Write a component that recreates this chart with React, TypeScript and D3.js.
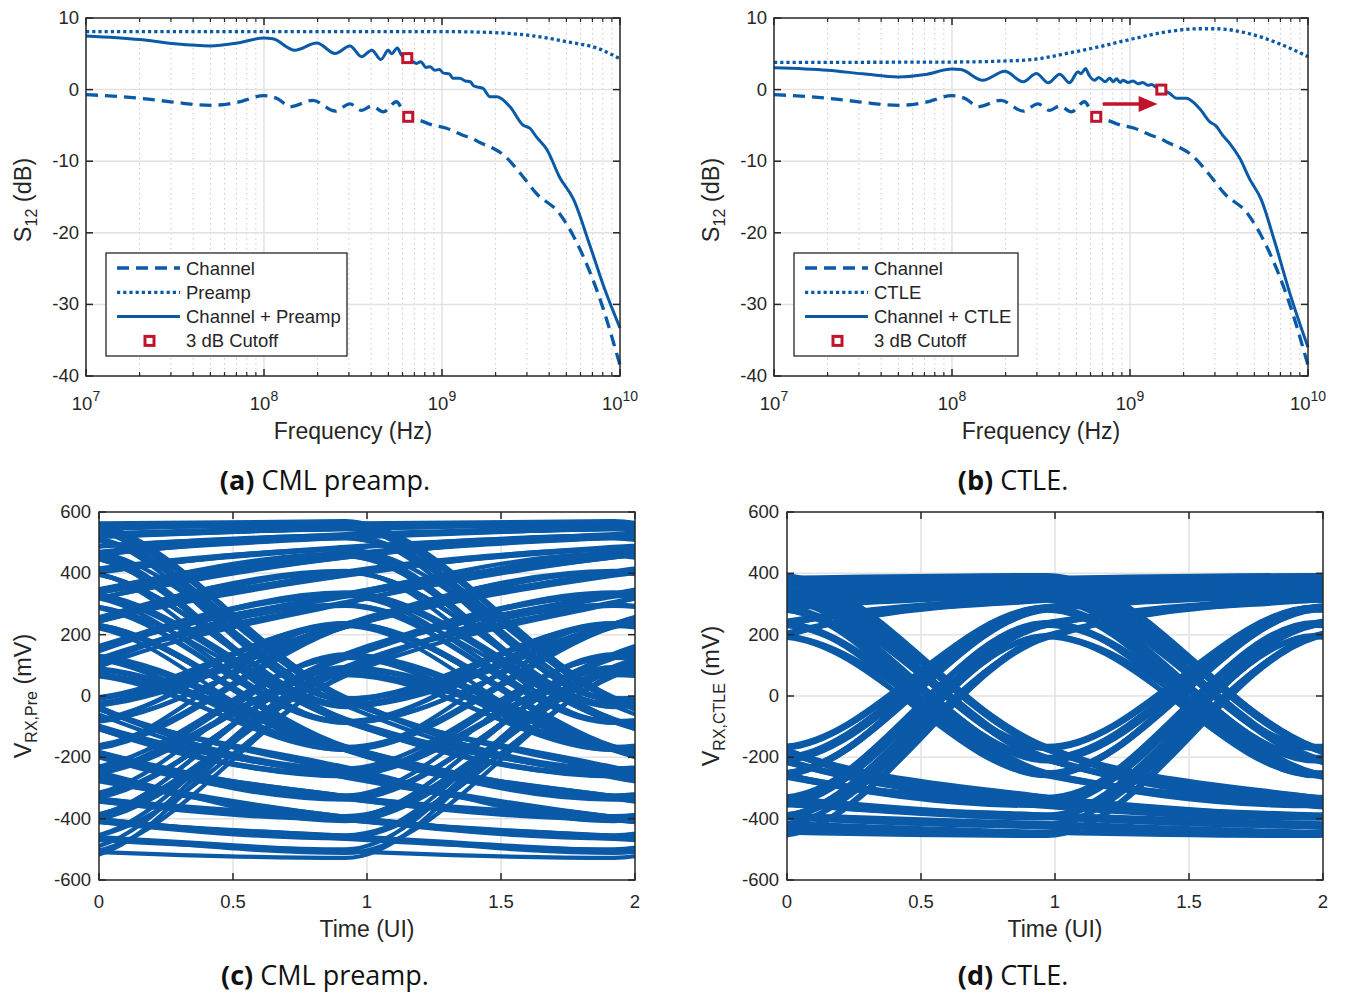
import React from 'react';
import * as d3 from 'd3';

const BLUE = '#0a5aa8';
const RED = '#c1132b';
const AXIS = '#262626';
const GRID = '#e2e2e2';
const MINOR = '#c8c8c8';
const FONT = '"Liberation Sans", Arial, Helvetica, sans-serif';
const CAPTION_FONT = '"Open Sans", sans-serif';

// ---- frequency responses (Hz, dB) ----
const channelFreq = [1e7, 2e7, 3e7, 5e7, 7e7, 1e8, 1.2e8, 1.4e8, 1.88e8, 2.51e8, 3.04e8, 3.54e8, 4.03e8, 4.68e8, 5.56e8, 5.93e8, 6.46e8, 7.52e8, 8.71e8, 1.06e9, 1.32e9, 1.5e9, 1.63e9, 1.94e9, 2.21e9, 2.51e9, 2.86e9, 3.39e9, 4.57e9, 5.96e9, 7.73e9, 1e10];
const channelDb = [-0.7, -1.2, -1.7, -2.2, -1.8, -0.85, -1.3, -2.4, -1.5, -3.0, -2.0, -2.9, -2.3, -3.1, -1.7, -2.6, -3.8, -4.3, -4.9, -5.4, -6.4, -6.9, -7.4, -8.2, -9.1, -10.5, -12.2, -14.5, -17.3, -22.3, -29.3, -38.5];

const preampFreq = [1e7, 1e8, 1e9, 1.78e9, 3.02e9, 5.25e9, 7.41e9, 1e10];
const preampDb = [8.1, 8.1, 8.1, 8.0, 7.6, 6.6, 5.8, 4.3];

const chPreFreq = [1e7, 2e7, 3.16e7, 5e7, 7.08e7, 1e8, 1.12e8, 1.49e8, 1.98e8, 2.51e8, 3.04e8, 3.54e8, 4.03e8, 4.54e8, 4.99e8, 5.21e8, 5.61e8, 5.93e8, 6.38e8, 6.76e8, 7.21e8, 7.59e8, 8.13e8, 8.57e8, 9.12e8, 9.66e8, 1.02e9, 1.1e9, 1.15e9, 1.26e9, 1.35e9, 1.44e9, 1.51e9, 1.7e9, 1.86e9, 2.03e9, 2.41e9, 2.85e9, 3.12e9, 3.39e9, 3.89e9, 4.57e9, 5.5e9, 6.76e9, 8.24e9, 1e10];
const chPreDb = [7.5, 7.0, 6.4, 6.1, 6.5, 7.2, 7.1, 5.5, 6.5, 5.05, 6.1, 4.6, 5.5, 4.2, 5.5, 5.0, 5.8, 4.8, 4.4, 4.0, 3.65, 3.9, 3.1, 3.2, 2.7, 2.8, 2.3, 2.2, 1.6, 1.6, 1.2, 1.1, 0.5, 0.17, -1.0, -1.0, -2.4, -4.95, -5.4, -6.6, -8.4, -12.2, -15.4, -21.7, -28, -33.3];

const ctleFreq = [1e7, 1e8, 1.85e8, 2.84e8, 4.4e8, 6.76e8, 1.04e9, 1.6e9, 2.45e9, 3.05e9, 4.68e9, 7.24e9, 1e10];
const ctleDb = [3.8, 3.85, 3.97, 4.2, 5.05, 6.0, 7.1, 8.06, 8.5, 8.5, 7.8, 6.2, 4.6];

const chCtleFreq = [1e7, 2e7, 3.16e7, 5e7, 7.08e7, 1e8, 1.12e8, 1.49e8, 1.98e8, 2.51e8, 2.98e8, 3.47e8, 4.03e8, 4.57e8, 5.11e8, 5.31e8, 5.62e8, 5.89e8, 6.31e8, 6.68e8, 7.24e8, 7.69e8, 8.04e8, 8.39e8, 8.81e8, 9.12e8, 9.77e8, 1.04e9, 1.11e9, 1.18e9, 1.26e9, 1.32e9, 1.41e9, 1.5e9, 1.67e9, 1.82e9, 2.07e9, 2.45e9, 2.81e9, 3.05e9, 3.31e9, 3.63e9, 4.14e9, 4.68e9, 5.47e9, 6.46e9, 7.94e9, 1e10];
const chCtleDb = [3.05, 2.7, 2.2, 1.75, 2.1, 2.86, 2.8, 1.3, 2.55, 1.1, 2.26, 0.95, 2.16, 0.95, 2.5, 2.2, 2.96, 2.0, 1.3, 1.7, 1.1, 1.6, 1.1, 1.5, 1.0, 1.3, 1.0, 1.2, 0.8, 1.0, 0.6, 0.7, 0.3, 0.0, -0.53, -1.2, -1.2, -2.6, -4.5, -5.1, -6.35, -7.5, -9.6, -12.4, -15.4, -21, -28.6, -36];

const cutoffsPre = [{ f: 6.46e8, db: -3.8 }, { f: 6.38e8, db: 4.4 }];
const cutoffsCtle = [{ f: 6.46e8, db: -3.8 }, { f: 1.5e9, db: 0 }];
const shiftArrow = { from: 7.03e8, to: 1.43e9, db: -2 };

const decadeTicks = [1e7, 1e8, 1e9, 1e10];
const decadeExp = ['7', '8', '9', '10'];
const dbTicks = [10, 0, -10, -20, -30, -40];

// ---- eye diagrams: received level at each bit centre (mV) ----
const cmlLevels = [128, 335, 455, -28, 232,
  -172, -326, -405, -458, -512,
  72, 296, -84, -262, 126, -168,
  236, 398, 484, 516, 548, 568,
  -12, -238, -396, 88, -174, -334,
  134, 328, 462, 524, -8, 226, 404,
  -78, -256, -402, -464, 68, -166,
  228, 396, 478, -32, -244, 132, 326,
  -82, 234, -176, -332, -398,
  92, 304, 458, 518, 552, -14, 228, -172,
  232, 402, -76, -262, -404, -456, -506, -528,
  74, -168, -328, 128, 332, 464, -26,
  236, 398, 482, 522, -12, -236, 126,
  -174, -334, -402, 86, 298, -84, 232,
  -168, -326, -396, -462, 66, 302, 456, -34,
  226, 404, -82, -258,
  134, 334, 458, 516, 546, 562, 570,
  -8, 232, -172, -328, -398, 94, -166, -332, 132, 328,
  -86, -254, 124, -176, 238, -164, -338, 138, 324, 452, 528, 544,
  -4, -246, 122, 338, -74, -266, -394, -466, -500, 78, -176, 226, 408,
  -86, 224, 392, 476, -36, 238, -178, -324, 136, -164, -336, -392,
  96, 306, 452, 514, -16, -232, -408, 84, 294, -88,
  226, 406, 486, 524, 544, 560, -6, -246, -394, -454, 64, 296];

const ctleLevels = [238, 318, 352, 374, 390,
  -172, -332, -395, -424,
  197, -258, 288, 338, -208, -338,
  232, 312, 358, -168, 282,
  -252, -352, -388, 193, 318, -202,
  288, 332, 352, 376, -174, -340,
  238, -260, 290, -250, 286, 340,
  -210, -330, -396, -428, -452,
  198, 320, 360, -166, -336, 230,
  -256, -358, 240, 312, -200, 280, -258,
  284, 338, 350, 370, 384, 393,
  -168, -330, -398, 192, -252, 290, 330,
  -208, -340, -390, 196, -254, -350,
  236, 318, 356, -172, 288,
  -256, -352, -394, -418, 194, 314, -204,
  -336, 240, -260, -350, -396, 192, 322, 350, 368, 391,
  -166, 292, 342, -200, -344, -388, -416, -444, -455, 190, 320,
  -212, 280, 330, 360, -176, -330, 230, 320, 350, 378,
  -164, 290, -250, -360, -398, 200];

const uiTicks = [0, 0.5, 1, 1.5, 2];
const mvTicks = [600, 400, 200, 0, -200, -400, -600];

type Kind = 'dash' | 'dot' | 'solid';
type Series = { freq: number[]; db: number[]; kind: Kind; name: string };

const strokeOf = (kind: Kind) =>
  kind === 'dash' ? { strokeDasharray: '12 7', strokeWidth: 3.3 }
    : kind === 'dot' ? { strokeDasharray: '3.2 3', strokeWidth: 3.3 }
      : { strokeWidth: 3 };

function FreqPanel({ left, right, top, bottom, series, cutoffs, legendW, arrow }: any) {
  const x = d3.scaleLog().domain([1e7, 1e10]).range([left, right]);
  const y = d3.scaleLinear().domain([-40, 10]).range([bottom, top]);
  const minor = decadeTicks.slice(0, 3).flatMap(d => d3.range(2, 10).map(k => k * d));
  const line = d3.line<[number, number]>().x(d => x(d[0])).y(d => y(d[1])).curve(d3.curveMonotoneX);
  const lx = left + 20, ly = top + 235;
  const rows = [...series.map((s: Series) => s.name), '3 dB Cutoff'];

  return (
    <g>
      {minor.map(f => (
        <line key={'m' + f} x1={x(f)} x2={x(f)} y1={top} y2={bottom} stroke={MINOR} strokeWidth={1} strokeDasharray="1.5 3.5" />
      ))}
      {decadeTicks.slice(1, 3).map(f => (
        <line key={'g' + f} x1={x(f)} x2={x(f)} y1={top} y2={bottom} stroke={GRID} strokeWidth={1.5} />
      ))}
      {dbTicks.slice(1, 5).map(v => (
        <line key={'h' + v} x1={left} x2={right} y1={y(v)} y2={y(v)} stroke={GRID} strokeWidth={1.5} />
      ))}

      {series.map((s: Series) => (
        <path key={s.name} d={line(s.freq.map((f, i) => [f, s.db[i]]) as [number, number][]) || ''}
          fill="none" stroke={BLUE} strokeLinejoin="round" {...strokeOf(s.kind)} />
      ))}

      {arrow && (
        <g>
          <line x1={x(arrow.from)} x2={x(arrow.to) - 16} y1={y(arrow.db)} y2={y(arrow.db)} stroke={RED} strokeWidth={3.5} />
          <polygon points={`${x(arrow.to)},${y(arrow.db)} ${x(arrow.to) - 19},${y(arrow.db) - 8} ${x(arrow.to) - 19},${y(arrow.db) + 8}`} fill={RED} />
        </g>
      )}
      {cutoffs.map((c: any, i: number) => (
        <rect key={i} x={x(c.f) - 4.5} y={y(c.db) - 4.5} width={9} height={9} fill="#fff" stroke={RED} strokeWidth={3} />
      ))}

      <rect x={left} y={top} width={right - left} height={bottom - top} fill="none" stroke={AXIS} strokeWidth={1.5} />
      {minor.map(f => (
        <g key={'t' + f}>
          <line x1={x(f)} x2={x(f)} y1={bottom} y2={bottom - 4} stroke={AXIS} strokeWidth={1.2} />
          <line x1={x(f)} x2={x(f)} y1={top} y2={top + 4} stroke={AXIS} strokeWidth={1.2} />
        </g>
      ))}
      {decadeTicks.map((f, i) => (
        <g key={'T' + f}>
          <line x1={x(f)} x2={x(f)} y1={bottom} y2={bottom - 7} stroke={AXIS} strokeWidth={1.5} />
          <line x1={x(f)} x2={x(f)} y1={top} y2={top + 7} stroke={AXIS} strokeWidth={1.5} />
          <text x={x(f)} y={bottom + 34} textAnchor="middle" fontSize={18.5} fill={AXIS}>
            10<tspan fontSize={14} dy={-9}>{decadeExp[i]}</tspan>
          </text>
        </g>
      ))}
      {dbTicks.map(v => (
        <g key={'Y' + v}>
          <line x1={left} x2={left + 7} y1={y(v)} y2={y(v)} stroke={AXIS} strokeWidth={1.5} />
          <line x1={right} x2={right - 7} y1={y(v)} y2={y(v)} stroke={AXIS} strokeWidth={1.5} />
          <text x={left - 7} y={y(v) + 6} textAnchor="end" fontSize={18.5} fill={AXIS}>{v}</text>
        </g>
      ))}
      <text x={(left + right) / 2} y={bottom + 63} textAnchor="middle" fontSize={23} fill={AXIS}>Frequency (Hz)</text>
      <text transform={`translate(${left - 55},${(top + bottom) / 2 + 3}) rotate(-90)`} textAnchor="middle" fontSize={23.5} fill={AXIS}>
        S<tspan fontSize={16} dy={6}>12</tspan><tspan dy={-6}> (dB)</tspan>
      </text>

      <rect x={lx} y={ly} width={legendW} height={103} fill="#fff" stroke={AXIS} strokeWidth={1.3} />
      {rows.map((name: string, i: number) => {
        const ry = ly + 15 + i * 24.3;
        const s = series[i] as Series | undefined;
        return (
          <g key={name}>
            {s ? (
              <line x1={lx + 11} x2={lx + 74} y1={ry} y2={ry} stroke={BLUE} {...strokeOf(s.kind)} />
            ) : (
              <rect x={lx + 39} y={ry - 4.5} width={9} height={9} fill="#fff" stroke={RED} strokeWidth={3} />
            )}
            <text x={lx + 80} y={ry + 6.5} fontSize={18.5} fill={AXIS}>{name}</text>
          </g>
        );
      })}
    </g>
  );
}

function EyePanel({ id, left, right, top, bottom, levels, phase, sub, lineW }: any) {
  const x = d3.scaleLinear().domain([0, 2]).range([left, right]);
  const y = d3.scaleLinear().domain([-600, 600]).range([bottom, top]);
  const line = d3.line<[number, number]>().x(d => x(d[0])).y(d => y(d[1])).curve(d3.curveMonotoneX);
  const traces = d3.range(1, levels.length - 3).map(k =>
    line([0, 1, 2, 3, 4].map(i => [i - 1 + phase, levels[k - 1 + i]]) as [number, number][]) || '');

  return (
    <g>
      <clipPath id={id}>
        <rect x={left} y={top} width={right - left} height={bottom - top} />
      </clipPath>
      {uiTicks.slice(1, 4).map(t => (
        <line key={'g' + t} x1={x(t)} x2={x(t)} y1={top} y2={bottom} stroke={GRID} strokeWidth={1.5} />
      ))}
      {mvTicks.slice(1, 6).map(v => (
        <line key={'h' + v} x1={left} x2={right} y1={y(v)} y2={y(v)} stroke={GRID} strokeWidth={1.5} />
      ))}
      <g clipPath={`url(#${id})`}>
        {traces.map((d, i) => (
          <path key={i} d={d} fill="none" stroke={BLUE} strokeWidth={lineW} />
        ))}
      </g>
      <rect x={left} y={top} width={right - left} height={bottom - top} fill="none" stroke={AXIS} strokeWidth={1.5} />
      {uiTicks.map(t => (
        <g key={'T' + t}>
          <line x1={x(t)} x2={x(t)} y1={bottom} y2={bottom - 7} stroke={AXIS} strokeWidth={1.5} />
          <line x1={x(t)} x2={x(t)} y1={top} y2={top + 7} stroke={AXIS} strokeWidth={1.5} />
          <text x={x(t)} y={bottom + 28} textAnchor="middle" fontSize={18.5} fill={AXIS}>{t}</text>
        </g>
      ))}
      {mvTicks.map(v => (
        <g key={'Y' + v}>
          <line x1={left} x2={left + 7} y1={y(v)} y2={y(v)} stroke={AXIS} strokeWidth={1.5} />
          <line x1={right} x2={right - 7} y1={y(v)} y2={y(v)} stroke={AXIS} strokeWidth={1.5} />
          <text x={left - 8} y={y(v) + 6} textAnchor="end" fontSize={18.5} fill={AXIS}>{v}</text>
        </g>
      ))}
      <text x={(left + right) / 2} y={bottom + 57} textAnchor="middle" fontSize={23} fill={AXIS}>Time (UI)</text>
      <text transform={`translate(${left - 68},${(top + bottom) / 2}) rotate(-90)`} textAnchor="middle" fontSize={23.5} fill={AXIS}>
        V<tspan fontSize={16} dy={6}>{sub}</tspan><tspan dy={-6}> (mV)</tspan>
      </text>
    </g>
  );
}

function Caption({ x, y, tag, text }: any) {
  return (
    <text x={x} y={y} textAnchor="middle" fontFamily={CAPTION_FONT} fontSize={27} fill="#111">
      <tspan fontWeight="bold">{tag}</tspan> {text}
    </text>
  );
}

export default function App() {
  const pre: Series[] = [
    { freq: channelFreq, db: channelDb, kind: 'dash', name: 'Channel' },
    { freq: preampFreq, db: preampDb, kind: 'dot', name: 'Preamp' },
    { freq: chPreFreq, db: chPreDb, kind: 'solid', name: 'Channel + Preamp' },
  ];
  const ctle: Series[] = [
    { freq: channelFreq, db: channelDb, kind: 'dash', name: 'Channel' },
    { freq: ctleFreq, db: ctleDb, kind: 'dot', name: 'CTLE' },
    { freq: chCtleFreq, db: chCtleDb, kind: 'solid', name: 'Channel + CTLE' },
  ];
  return (
    <svg width={1346} height={994} style={{ position: 'absolute', left: 0, top: 0, background: '#fff' }} fontFamily={FONT}>
      <FreqPanel left={86} right={620} top={18} bottom={376} series={pre} cutoffs={cutoffsPre} legendW={241} />
      <FreqPanel left={774} right={1308} top={18} bottom={376} series={ctle} cutoffs={cutoffsCtle} legendW={224} arrow={shiftArrow} />
      <EyePanel id="eyeC" left={99} right={635} top={512} bottom={880} levels={cmlLevels} phase={-0.08} sub="RX,Pre" lineW={4.2} />
      <EyePanel id="eyeD" left={787} right={1323} top={512} bottom={880} levels={ctleLevels} phase={-0.03} sub="RX,CTLE" lineW={5} />
      <Caption x={325} y={490} tag="(a)" text="CML preamp." />
      <Caption x={1013} y={490} tag="(b)" text="CTLE." />
      <Caption x={325} y={985} tag="(c)" text="CML preamp." />
      <Caption x={1013} y={985} tag="(d)" text="CTLE." />
    </svg>
  );
}
